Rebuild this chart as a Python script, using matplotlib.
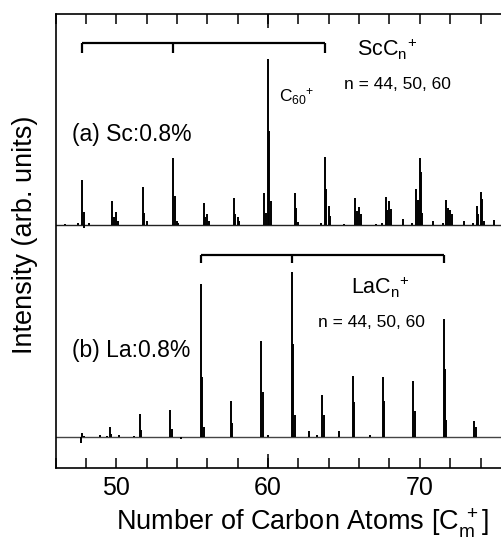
import matplotlib
matplotlib.use("Agg")
import matplotlib.pyplot as plt

plt.rcParams['font.family'] = ['Liberation Sans', 'DejaVu Sans']
plt.rcParams['mathtext.fontset'] = 'custom'
plt.rcParams['mathtext.rm'] = 'Liberation Sans'
plt.rcParams['mathtext.it'] = 'Liberation Sans:italic'

# (a) Sc:0.8%  -- peak positions (carbon-atom units) and heights (arb.)
sc_pos = [46.65, 47.5, 47.75, 47.85, 47.9, 48.2,
          49.75, 49.85, 50.0, 50.1,
          51.75, 51.85, 52.0,
          53.75, 53.85, 54.0, 54.1,
          55.75, 55.85, 56.0, 56.1,
          57.75, 57.85, 58.0, 58.1,
          59.75, 59.85, 60.0, 60.08, 60.17,
          61.75, 61.85, 62.0,
          63.5, 63.75, 63.85, 64.0, 64.1,
          65.0, 65.75, 65.85, 66.0, 66.1,
          67.1, 67.5, 67.75, 67.85, 68.0, 68.1,
          68.9, 69.5, 69.75, 69.85, 70.0, 70.08, 70.17,
          70.9, 71.55, 71.75, 71.85, 72.0, 72.1,
          72.9, 73.5, 73.75, 73.85, 74.0, 74.1, 74.2, 74.9]
sc_int = [1, 2, 45, 13.6, -3, 2,
          24, 8.7, 13.3, 4,
          38.3, 12.7, 4,
          67.3, 29, 4.7, 2,
          22, 8.7, 11.3, 4,
          27, 11.3, 8.3, 4,
          32.3, 12.7, 166, 94, 24.3,
          32.3, 17, 3.7,
          2.3, 68.7, 36.3, 19.7, 9,
          1, 27.7, 14.3, 18.7, 11,
          1, 2, 28.3, 15.3, 24.3, 16,
          6.3, 2, 36.3, 25.3, 67.7, 53, 12,
          4.7, 2, 25.7, 17.7, 15.3, 11,
          4, 2, 19.3, 11.3, 33.3, 26, 4, 5.3]

# (b) La:0.8%
la_pos = [47.7, 47.75, 47.9, 48.9, 49.4, 49.56, 49.65, 50.2,
          51.2, 51.55, 51.65, 53.56, 53.65, 54.25,
          55.57, 55.66, 55.75, 57.57, 57.66,
          59.57, 59.66, 60.0, 61.58, 61.66, 61.75,
          62.68, 63.2, 63.58, 63.66, 64.68,
          65.58, 65.66, 66.7, 67.58, 67.66,
          69.58, 69.66, 71.58, 71.66, 71.75, 73.6, 73.68]
la_int = [-6.7, 3.7, 1, 1.5, 1, 9.7, 3, 1.5,
          1, 22.7, 7, 27, 7.7, -2,
          153, 60, 9.3, 36, 13.3,
          95.7, 45, 2, 165, 93, 21.7,
          6, 2, 42, 21.7, 5.3,
          60.7, 35, 2, 59.7, 35.7,
          55.7, 25.7, 117.3, 67.7, 16.7, 16, 9.3]

sc_offset = 242.7
la_offset = 31.3

# series markers: ScC_n (n = 44, 50, 60) and LaC_n (n = 44, 50, 60)
sc_bracket = [47.75, 53.75, 63.75]
la_bracket = [55.58, 61.58, 71.58]

fig = plt.figure(figsize=(5.01, 5.40), dpi=100)
ax = fig.add_axes([55.5 / 501, 72 / 540, 455.4 / 501, 454 / 540])

ax.axhline(sc_offset, color='#222222', lw=1.0)
ax.axhline(la_offset, color='#444444', lw=1.0)
ax.vlines(sc_pos, sc_offset, [sc_offset + h for h in sc_int], color='black', lw=1.4)
ax.vlines(la_pos, la_offset, [la_offset + h for h in la_int], color='black', lw=1.4)

# brackets
def bracket(xs, y, drop):
    ax.plot([xs[0], xs[-1]], [y, y], color='black', lw=1.6, solid_capstyle='butt')
    ax.vlines(xs, y - drop, y, color='black', lw=1.6)

bracket(sc_bracket, 424.7, 9.4)
bracket(la_bracket, 213, 8.3)

ax.text(47.1, 334, '(a) Sc:0.8%', fontsize=16.5, va='center', ha='left')
ax.text(65.87, 412, r'ScC$_\mathrm{n}{}^{+}$', fontsize=15.5, va='baseline')
ax.text(65.01, 378.7, 'n = 44, 50, 60', fontsize=12.5, va='baseline')
ax.text(60.72, 366.3, r'C$_\mathrm{60}{}^{+}$', fontsize=12.5, va='baseline')

ax.text(47.1, 118, '(b) La:0.8%', fontsize=16.5, va='center', ha='left')
ax.text(65.47, 174, r'LaC$_\mathrm{n}{}^{+}$', fontsize=15.5, va='baseline')
ax.text(63.29, 141.3, 'n = 44, 50, 60', fontsize=12.5, va='baseline')

ax.set_xlim(46, 76)
ax.set_ylim(0, 454)
ax.set_xticks([50, 60, 70])
ax.set_xticks([t for t in range(46, 77, 2) if t % 10], minor=True)
ax.set_yticks([])
ax.tick_params(axis='x', which='both', direction='in', top=True, bottom=True,
               length=7.2, width=1.1, labelsize=18, pad=6)
for s in ax.spines.values():
    s.set_linewidth(1.2)
ax.spines['right'].set_visible(False)

ax.set_xlabel(r'Number of Carbon Atoms [C$_\mathrm{m}^{\ +}$]', fontsize=19.5, va='center')
ax.xaxis.set_label_coords((303 - 55.5) / 455.4, (468 - 523) / 454)
ax.set_ylabel('Intensity (arb. units)', fontsize=19.5, va='center')
ax.yaxis.set_label_coords((25 - 55.5) / 455.4, (468 - 235) / 454)

# longer tick at 60
ax.vlines([60], 0, 14, color='black', lw=1.1, clip_on=False)
ax.vlines([60], 440, 454, color='black', lw=1.1, clip_on=False)

plt.savefig('out.png', dpi=100)
